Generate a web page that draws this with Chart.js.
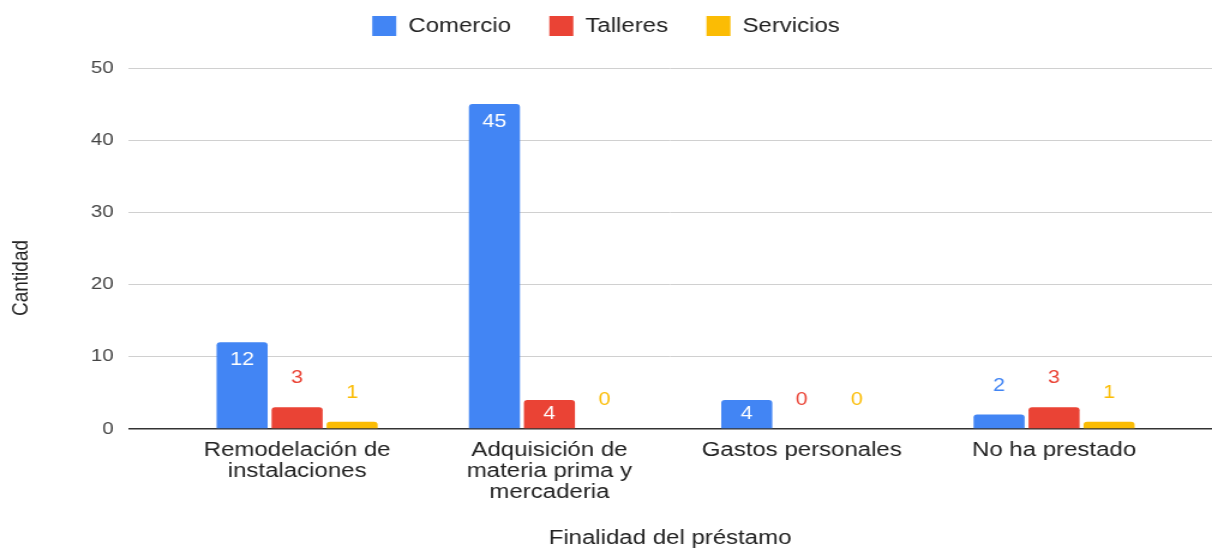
<!DOCTYPE html>
<html lang="es">
<head>
<meta charset="utf-8">
<title>Finalidad del préstamo</title>
<script src="https://cdn.jsdelivr.net/npm/chart.js@4.4.1/dist/chart.umd.min.js"></script>
<style>
  html, body { margin: 0; padding: 0; background: #fff; }
</style>
</head>
<body>
<!-- drawn at 1010px wide and shown stretched to 1212px, like the source image -->
<canvas id="chart" width="1010" height="548" style="display:block;width:1212px;height:548px"></canvas>
<script>
// Finalidad del préstamo por rubro

const categories = [
  ['Remodelación de', 'instalaciones'],
  ['Adquisición de', 'materia prima y', 'mercaderia'],
  ['Gastos personales'],
  ['No ha prestado']
];
const seriesNames = ['Comercio', 'Talleres', 'Servicios'];
const seriesColors = ['#4285f4', '#ea4335', '#fbbc04'];
const comercio = [12, 45, 4, 2];
const talleres = [3, 4, 0, 3];
const servicios = [1, 0, 0, 1];
const yTicks = [0, 10, 20, 30, 40, 50];

const FONT = '"Liberation Sans", Arial, sans-serif';
Chart.defaults.font.family = FONT;

// Push the plot area down below the legend
const legendSpacer = {
  id: 'legendSpacer',
  beforeInit(chart) {
    const fit = chart.legend.fit;
    chart.legend.fit = function () {
      fit.call(this);
      this.height += 22;
    };
  }
};

// Y axis title, centred on the whole chart height like the original
const yAxisTitle = {
  id: 'yAxisTitle',
  afterDraw(chart) {
    const ctx = chart.ctx;
    ctx.save();
    ctx.translate(18, 278);
    ctx.rotate(-Math.PI / 2);
    ctx.font = '19px ' + FONT;
    ctx.fillStyle = '#222';
    ctx.textAlign = 'center';
    ctx.textBaseline = 'middle';
    ctx.fillText('Cantidad', 0, 0);
    ctx.restore();
  }
};

// Value labels: white inside tall bars, coloured above short ones
const valueLabels = {
  id: 'valueLabels',
  afterDatasetsDraw(chart) {
    const ctx = chart.ctx;
    ctx.save();
    ctx.font = '18px ' + FONT;
    ctx.textAlign = 'center';
    ctx.textBaseline = 'middle';
    chart.data.datasets.forEach((ds, i) => {
      chart.getDatasetMeta(i).data.forEach((bar, j) => {
        const value = ds.data[j].y;
        const h = bar.base - bar.y;
        if (h > 24) {
          ctx.fillStyle = '#ffffff';
          ctx.fillText(value, bar.x, Math.min(bar.y + 18, bar.y + h / 2));
        } else {
          ctx.fillStyle = ds.backgroundColor;
          ctx.fillText(value, bar.x, bar.y - 29);
        }
      });
    });
    ctx.restore();
  }
};

const toPoints = values => values.map((v, i) => ({ x: i, y: v }));

new Chart(document.getElementById('chart'), {
  type: 'bar',
  data: {
    datasets: [
      { label: seriesNames[0], data: toPoints(comercio), backgroundColor: seriesColors[0] },
      { label: seriesNames[1], data: toPoints(talleres), backgroundColor: seriesColors[1] },
      { label: seriesNames[2], data: toPoints(servicios), backgroundColor: seriesColors[2] }
    ]
  },
  options: {
    responsive: false,
    devicePixelRatio: 1,
    animation: false,
    layout: { padding: { top: -16 } },
    datasets: {
      bar: { categoryPercentage: 0.654, barPercentage: 0.928, borderRadius: 3 }
    },
    plugins: {
      legend: {
        position: 'top',
        labels: { boxWidth: 20, boxHeight: 20, padding: 32, color: '#222', font: { size: 20 } }
      },
      tooltip: { enabled: false }
    },
    scales: {
      x: {
        type: 'linear',
        min: -0.67,
        max: 3.626,
        offset: false,
        grid: { display: false },
        border: { display: false },
        ticks: {
          stepSize: 1,
          autoSkip: false,
          maxRotation: 0,
          padding: 3,
          color: '#222',
          font: { size: 20, lineHeight: 1.05 },
          callback: v => categories[Math.round(v)]
        },
        afterBuildTicks: s => {
          s.ticks = s.ticks.filter(t => Math.abs(t.value - Math.round(t.value)) < 1e-6 && categories[Math.round(t.value)]);
        },
        afterFit: s => { s.height = 119; },
        title: { display: true, text: 'Finalidad del préstamo', color: '#222', font: { size: 20, lineHeight: 1 }, padding: 0 }
      },
      y: {
        min: yTicks[0],
        max: yTicks[yTicks.length - 1],
        border: { display: false },
        grid: {
          drawTicks: false,
          color: c => (c.tick && c.tick.value === 0 ? '#333' : '#d0d0d0'),
          lineWidth: c => (c.tick && c.tick.value === 0 ? 1.5 : 1)
        },
        ticks: { stepSize: 10, padding: 12, color: '#444', font: { size: 17 } },
        afterBuildTicks: s => { s.ticks = yTicks.map(v => ({ value: v })); },
        afterFit: s => { s.width = 106.7; }
      }
    }
  },
  plugins: [legendSpacer, valueLabels, yAxisTitle]
});
</script>
</body>
</html>
